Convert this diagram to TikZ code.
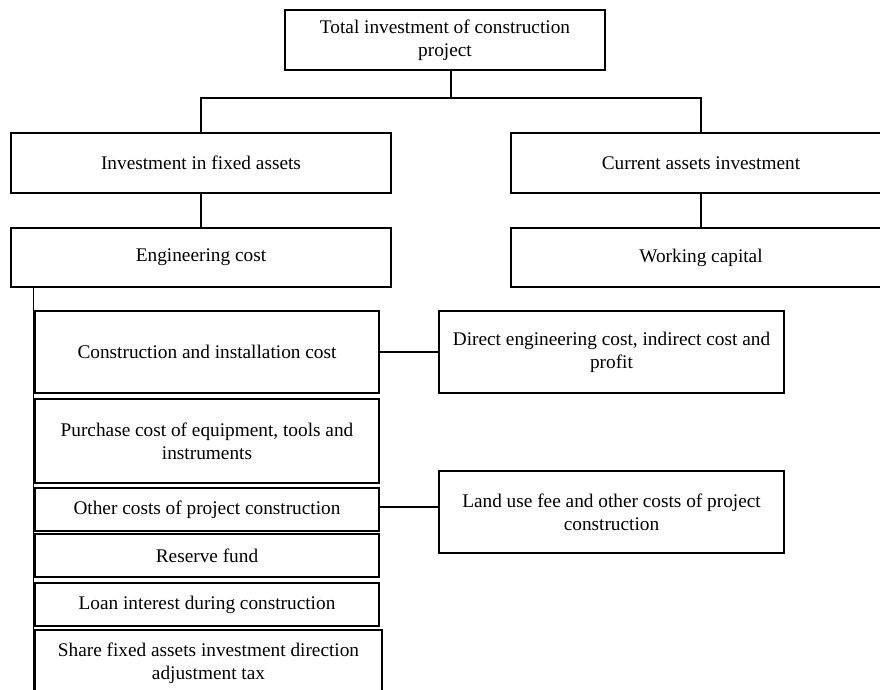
\documentclass[tikz,border=0pt]{standalone}
\usepackage{fontspec}
\setmainfont{Liberation Serif}
\usetikzlibrary{calc}

\begin{document}
\begin{tikzpicture}[x=1pt,y=-1pt,
        costbox/.style={draw,line width=1.4pt,align=center,inner sep=0pt,
            font=\fontsize{19.3}{23}\selectfont},
        link/.style={line width=1.4pt}]
        \useasboundingbox (0,0) rectangle (880,690);
        \clip (0,0) rectangle (880,690);
        \def\wl{344}
        
        % top level
        \node[costbox,minimum width=320,minimum height=60] (total) at (445,40)
            {Total investment of construction\\project};
        \node[costbox,minimum width=380,minimum height=60] (fixed) at (201,163)
            {Investment in fixed assets};
        \node[costbox,minimum width=380,minimum height=60] (current) at (701,163)
            {Current assets investment};
        \node[costbox,minimum width=380,minimum height=59] (eng) at (201,257.5)
            {Engineering cost};
        \node[costbox,minimum width=380,minimum height=59] (work) at (701,257.5)
            {Working capital};
        
        % items of engineering cost
        \node[costbox,minimum width=\wl,minimum height=82] (constr) at (207,352)
            {Construction and installation cost};
        \node[costbox,minimum width=\wl,minimum height=84] (purch) at (207,441)
            {Purchase cost of equipment, tools and\\instruments};
        \node[costbox,minimum width=\wl,minimum height=43] (other) at (207,509.5)
            {Other costs of project construction};
        \node[costbox,minimum width=\wl,minimum height=43] (reserve) at (207,555.5)
            {Reserve fund};
        \node[costbox,minimum width=\wl,minimum height=43] (loan) at (207,604.5)
            {Loan interest during construction};
        \node[costbox,minimum width=347,minimum height=66] (share) at (208.5,663)
            {Share fixed assets investment direction\\adjustment tax};
        
        % details on the right
        \node[costbox,minimum width=345,minimum height=82] (direct) at (611.5,352)
            {Direct engineering cost, indirect cost and\\profit};
        \node[costbox,minimum width=345,minimum height=82] (land) at (611.5,512)
            {Land use fee and other costs of project\\construction};
        
        \coordinate (bar) at (0,98);
        \draw[link] ([xshift=6]total.south) -- ([xshift=6]total.south |- bar);
        \draw[link] (fixed.north) -- (fixed.north |- bar) -- (current.north |- bar)
            -- (current.north);
        \draw[link] (fixed.south) -- (eng.north);
        \draw[link] (current.south) -- (work.north);
        \draw[link] ([xshift=-1]eng.south -| constr.west) -- ([xshift=-1]share.south west);
        \draw[link] (constr.east) -- (direct.west);
        \draw[link] ([yshift=2.5]other.east) -- ([yshift=2.5]other.east -| land.west);
    \end{tikzpicture}
\end{document}
